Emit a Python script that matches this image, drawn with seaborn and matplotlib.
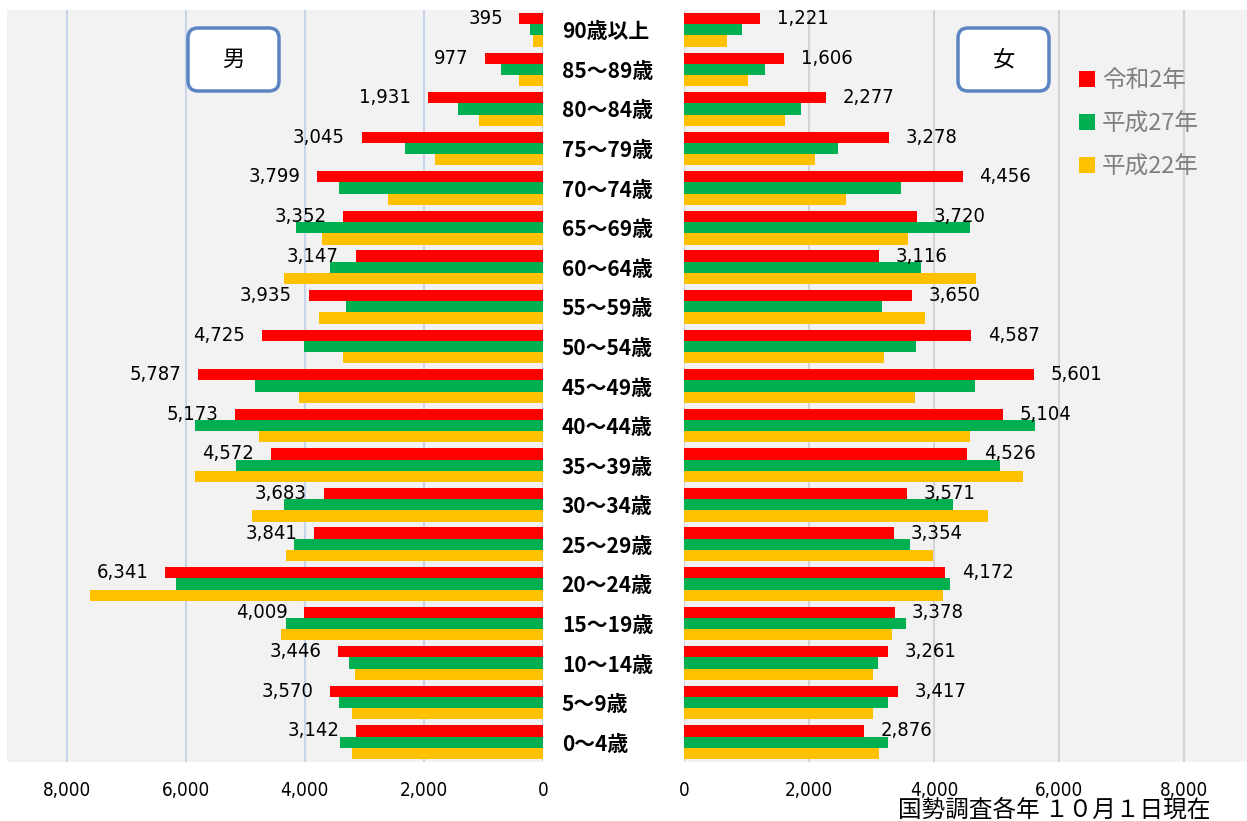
import matplotlib.pyplot as plt
import seaborn as sns
import pandas as pd
from matplotlib.patches import FancyBboxPatch
from matplotlib.ticker import FuncFormatter

# 年齢階級（上から下）
ages = ['90歳以上', '85～89歳', '80～84歳', '75～79歳', '70～74歳', '65～69歳', '60～64歳',
        '55～59歳', '50～54歳', '45～49歳', '40～44歳', '35～39歳', '30～34歳', '25～29歳',
        '20～24歳', '15～19歳', '10～14歳', '5～9歳', '0～4歳']
years = ['令和2年', '平成27年', '平成22年']
colors = ['#ff0000', '#00b050', '#ffc000']

# 男
male_r2 = [395, 977, 1931, 3045, 3799, 3352, 3147, 3935, 4725, 5787, 5173, 4572, 3683, 3841, 6341, 4009, 3446, 3570, 3142]
male_h27 = [215, 700, 1420, 2325, 3420, 4145, 3580, 3300, 4010, 4830, 5840, 5150, 4355, 4185, 6170, 4310, 3255, 3430, 3410]
male_h22 = [160, 410, 1075, 1810, 2605, 3705, 4355, 3755, 3365, 4095, 4775, 5840, 4885, 4310, 7600, 4400, 3155, 3215, 3200]

# 女
female_r2 = [1221, 1606, 2277, 3278, 4456, 3720, 3116, 3650, 4587, 5601, 5104, 4526, 3571, 3354, 4172, 3378, 3261, 3417, 2876]
female_h27 = [935, 1290, 1870, 2455, 3470, 4570, 3790, 3165, 3710, 4655, 5605, 5050, 4295, 3620, 4260, 3545, 3100, 3260, 3260]
female_h22 = [690, 1030, 1620, 2100, 2585, 3575, 4670, 3850, 3200, 3685, 4575, 5415, 4865, 3985, 4135, 3330, 3015, 3015, 3115]

x_ticks = [0, 2000, 4000, 6000, 8000]


def long_df(series):
    frames = [pd.DataFrame({'age': ages, 'year': y, 'pop': v}) for y, v in zip(years, series)]
    return pd.concat(frames, ignore_index=True)


df_m = long_df([male_r2, male_h27, male_h22])
df_f = long_df([female_r2, female_h27, female_h22])

sns.set_style('white')
plt.rcParams['font.family'] = ['Noto Sans CJK JP', 'DejaVu Sans']
plt.rcParams['text.color'] = 'black'
plt.rcParams['xtick.color'] = 'black'
plt.rcParams['ytick.color'] = 'black'
num_font = dict(family='DejaVu Sans', stretch='condensed')

fig = plt.figure(figsize=(12.47, 8.21), dpi=100)
ax_m = fig.add_axes([7 / 1247, 1 - 762 / 821, 536 / 1247, 752 / 821])
ax_f = fig.add_axes([684 / 1247, 1 - 762 / 821, 563 / 1247, 752 / 821])

sns.barplot(data=df_m, y='age', x='pop', hue='year', palette=colors, width=0.85,
            saturation=1, orient='h', ax=ax_m, legend=False, linewidth=0)
sns.barplot(data=df_f, y='age', x='pop', hue='year', palette=colors, width=0.85,
            saturation=1, orient='h', ax=ax_f, linewidth=0)

fmt = FuncFormatter(lambda v, p: f'{v:,.0f}')
for ax, grid_col in [(ax_m, '#c6d5ea'), (ax_f, '#d4d4d4')]:
    ax.set_facecolor('#f2f2f2')
    ax.set_xticks(x_ticks)
    ax.xaxis.set_major_formatter(fmt)
    ax.grid(axis='x', color=grid_col, linewidth=1.5)
    ax.set_axisbelow(True)
    ax.set_xlabel('')
    ax.set_ylabel('')
    ax.tick_params(axis='x', length=0, pad=14)
    for lbl in ax.get_xticklabels():
        lbl.set_family(num_font['family'])
        lbl.set_stretch(num_font['stretch'])
        lbl.set_fontsize(13.5)
    for s in ax.spines.values():
        s.set_visible(False)

ax_m.set_xlim(9000, 0)
ax_f.set_xlim(0, 9000)
ax_m.tick_params(axis='y', left=False, labelleft=False)

# 年齢ラベル（中央）
ax_f.tick_params(axis='y', length=0, pad=88, labelsize=15)
for lbl in ax_f.get_yticklabels():
    lbl.set_ha('left')
    lbl.set_fontweight('bold')

# 令和2年の数値ラベル
for bar, v in zip(ax_m.containers[0], male_r2):
    ax_m.annotate(f'{v:,}', (bar.get_width(), bar.get_y() + bar.get_height() / 2),
                  xytext=(-12, 0), textcoords='offset points', ha='right', va='center',
                  fontsize=14.5, **num_font)
for bar, v in zip(ax_f.containers[0], female_r2):
    ax_f.annotate(f'{v:,}', (bar.get_width(), bar.get_y() + bar.get_height() / 2),
                  xytext=(12, 0), textcoords='offset points', ha='left', va='center',
                  fontsize=14.5, **num_font)

sns.move_legend(ax_f, 'upper left', bbox_to_anchor=(1058 / 1247, 1 - 48 / 821),
                bbox_transform=fig.transFigure, frameon=False, title=None, fontsize=17,
                labelcolor='#808080', handlelength=0.65, handleheight=0.65,
                handletextpad=0.3, labelspacing=0.85)

# 男・女の枠
for x0, txt in [(1.88, '男'), (9.58, '女')]:
    box = FancyBboxPatch((x0, 7.30), 0.91, 0.63, boxstyle='round,pad=0,rounding_size=0.1',
                         transform=fig.dpi_scale_trans, facecolor='white',
                         edgecolor='#5a84c2', linewidth=2.5)
    fig.add_artist(box)
    fig.text(x0 + 0.455, 7.615, txt, transform=fig.dpi_scale_trans, ha='center', va='center',
             fontsize=16)

fig.text(1210 / 1247, 1 - 810 / 821, '国勢調査各年 １０月１日現在', ha='right', va='center', fontsize=17)

fig.savefig('out.png', dpi=100)
